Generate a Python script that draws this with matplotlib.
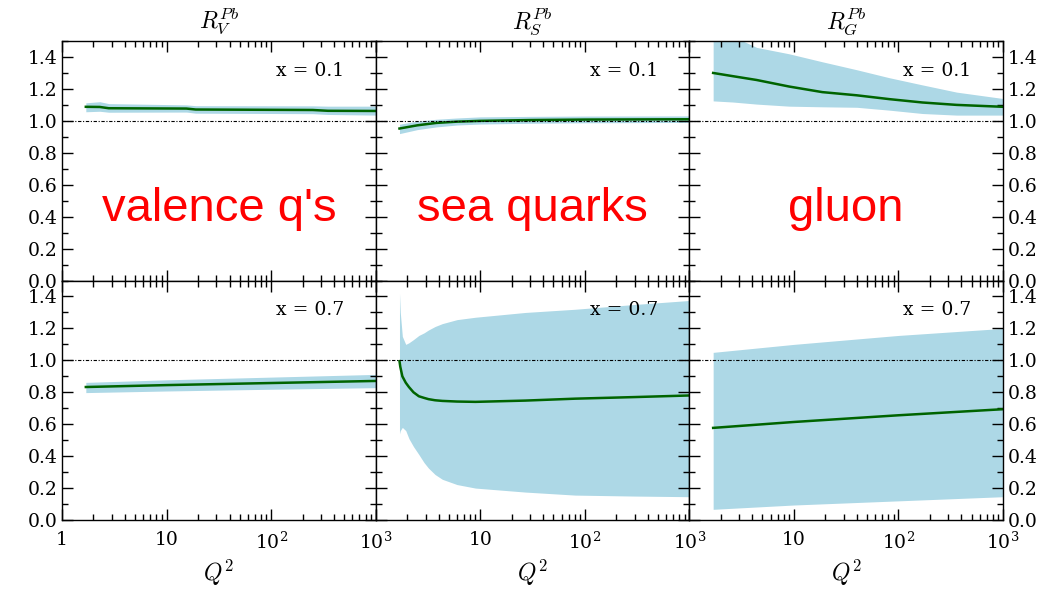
import matplotlib
matplotlib.use("Agg")
import matplotlib.pyplot as plt
from matplotlib.ticker import FixedLocator, FixedFormatter, LogLocator, MultipleLocator, NullFormatter

plt.rcParams['font.family'] = ['DejaVu Serif']
plt.rcParams['mathtext.fontset'] = 'dejavuserif'

# ---- data (Q^2 grid, central value, band lo/hi) ----
# valence, x = 0.1
v1_q2 = [1.69, 2.3, 2.8, 15.5, 19.0, 250, 350, 1000]
v1_mid = [1.088, 1.087, 1.079, 1.077, 1.071, 1.068, 1.063, 1.062]
v1_lo = [1.057, 1.060, 1.054, 1.055, 1.048, 1.045, 1.040, 1.036]
v1_hi = [1.113, 1.120, 1.108, 1.100, 1.095, 1.094, 1.092, 1.092]

# sea, x = 0.1
s1_q2 = [1.69, 2.5, 3.8, 6.0, 10, 30, 100, 1000]
s1_mid = [0.952, 0.972, 0.987, 0.995, 1.000, 1.005, 1.008, 1.010]
s1_lo = [0.920, 0.945, 0.962, 0.974, 0.980, 0.985, 0.988, 0.990]
s1_hi = [0.979, 0.998, 1.010, 1.018, 1.025, 1.028, 1.030, 1.031]

# gluon, x = 0.1
g1_q2 = [1.69, 2.6, 4.4, 9, 18.7, 40, 82, 170, 360, 1000]
g1_mid = [1.300, 1.280, 1.256, 1.215, 1.180, 1.160, 1.136, 1.115, 1.100, 1.088]
g1_lo = [1.125, 1.118, 1.105, 1.092, 1.088, 1.085, 1.067, 1.046, 1.036, 1.036]
g1_hi = [1.560, 1.530, 1.460, 1.420, 1.370, 1.320, 1.270, 1.225, 1.180, 1.140]

# valence, x = 0.7
v7_q2 = [1.69, 10, 100, 1000]
v7_mid = [0.833, 0.845, 0.858, 0.871]
v7_lo = [0.798, 0.808, 0.819, 0.829]
v7_hi = [0.862, 0.878, 0.895, 0.912]

# sea, x = 0.7
s7_q2 = [1.69, 1.72, 1.8, 1.94, 2.08, 2.3, 2.59, 2.9, 3.2, 3.7, 4.34, 6.0, 9.0, 27, 81, 300, 1000]
s7_mid = [0.995, 0.96, 0.90, 0.86, 0.833, 0.800, 0.775, 0.765, 0.757, 0.750, 0.746, 0.742, 0.740, 0.748, 0.760, 0.770, 0.780]
s7_lo = [0.540, 0.560, 0.580, 0.560, 0.510, 0.460, 0.410, 0.360, 0.325, 0.285, 0.255, 0.222, 0.200, 0.175, 0.156, 0.150, 0.146]
s7_hi = [1.420, 1.300, 1.150, 1.100, 1.110, 1.130, 1.156, 1.172, 1.190, 1.212, 1.230, 1.255, 1.270, 1.300, 1.320, 1.350, 1.375]

# gluon, x = 0.7
g7_q2 = [1.69, 10, 100, 1000]
g7_mid = [0.577, 0.614, 0.656, 0.694]
g7_lo = [0.067, 0.094, 0.120, 0.146]
g7_hi = [1.050, 1.100, 1.156, 1.200]

titles = [r'$R_V^{Pb}$', r'$R_S^{Pb}$', r'$R_G^{Pb}$']
names = ["valence q's", "sea quarks", "gluon"]
x_labels = ['x = 0.1', 'x = 0.7']
y_ticks = [0.0, 0.2, 0.4, 0.6, 0.8, 1.0, 1.2, 1.4]
q2_ticks = [1, 10, 100, 1000]

panels = [
    [(v1_q2, v1_mid, v1_lo, v1_hi), (s1_q2, s1_mid, s1_lo, s1_hi), (g1_q2, g1_mid, g1_lo, g1_hi)],
    [(v7_q2, v7_mid, v7_lo, v7_hi), (s7_q2, s7_mid, s7_lo, s7_hi), (g7_q2, g7_mid, g7_lo, g7_hi)],
]

fig, axs = plt.subplots(2, 3, figsize=(10.58, 5.92), dpi=100)
fig.subplots_adjust(left=0.0586, right=0.948, top=0.9307, bottom=0.1216, wspace=0, hspace=0)

for r in range(2):
    for c in range(3):
        ax = axs[r, c]
        q2, mid, lo, hi = panels[r][c]
        ax.fill_between(q2, lo, hi, color='#add8e6', lw=0)
        ax.plot(q2, mid, color='#006400', lw=1.8)
        ax.axhline(1.0, color='black', lw=0.8, ls=(0, (3, 1.5, 1, 1.5)))

        ax.set_xscale('log')
        ax.set_xlim(1, 1000)
        ax.set_ylim(0, 1.5)

        ax.xaxis.set_major_locator(FixedLocator(q2_ticks))
        ax.xaxis.set_minor_locator(LogLocator(base=10, subs=range(2, 10)))
        ax.xaxis.set_minor_formatter(NullFormatter())
        ax.yaxis.set_major_locator(FixedLocator(y_ticks))
        ax.yaxis.set_minor_locator(MultipleLocator(0.1))

        ax.tick_params(which='both', direction='in', top=True, right=True,
                       left=True, bottom=True, labelsize=13.5, width=1.0)
        ax.tick_params(which='major', length=8)
        ax.tick_params(which='minor', length=4)
        for s in ax.spines.values():
            s.set_linewidth(1.0)

        ax.text(0.9, 0.875, x_labels[r], transform=ax.transAxes,
                ha='right', va='center', fontsize=13.5)

        # y labels: left column on the left, right column on the right
        ax.yaxis.set_major_formatter(FixedFormatter(['%.1f' % v for v in y_ticks]))
        ax.tick_params(axis='y', labelleft=(c == 0), labelright=(c == 2))

        if r == 0:
            ax.tick_params(axis='x', labelbottom=False)
            ax.set_title(titles[c], fontsize=17, pad=9, math_fontfamily='cm')
            ax.text(0.5, 0.3, names[c], transform=ax.transAxes, ha='center', va='center',
                    color='red', fontsize=34, family=['Liberation Sans'])
        else:
            xl = ['1' if c == 0 else '', '10', r'$10^2$', r'$10^3$']
            ax.xaxis.set_major_formatter(FixedFormatter(xl))
            ax.tick_params(axis='x', labelbottom=True, pad=8)
            ax.set_xlabel(r'$Q^2$', fontsize=17, math_fontfamily='cm')

fig.savefig('out.png', dpi=100)
